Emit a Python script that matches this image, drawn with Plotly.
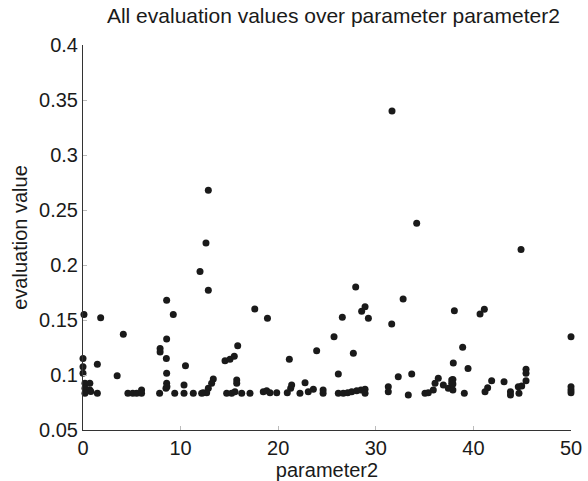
import plotly.graph_objects as go

param2 = [
    12.84, 12.6, 31.66, 34.19, 44.88, 11.99, 12.84, 8.57, 9.25, 0.1, 1.81, 17.6, 18.9, 4.13,
    8.57, 7.9, 7.9, 15.85, 0.0, 8.54, 14.55, 15.06, 15.5, 21.14, 23.94, 1.47, 10.5, 0.0, 0.0,
    3.5, 8.57, 8.57, 8.5, 8.6, 13.35, 13.18, 12.84, 12.33, 12.67, 12.16, 15.75, 15.75, 10.35,
    0.2, 0.2, 0.7, 0.2, 0.8, 0.7, 1.47, 4.6, 5.1, 5.5, 6.0, 6.0, 7.85, 9.4, 10.35, 11.3,
    14.72, 15.23, 15.57, 16.26, 17.11, 18.47, 18.82, 19.16, 19.85, 20.93, 21.28, 21.38,
    22.23, 22.75, 23.08, 23.6, 24.6, 24.6,
    27.94, 32.8, 38.05, 40.68, 41.12, 28.55, 28.9, 26.57, 29.24, 31.63, 25.72, 27.7, 38.9,
    37.94, 39.45, 50.0, 26.16, 32.3, 33.68,
    26.16, 26.67, 27.12, 27.53, 28.04, 28.48, 28.9, 28.9, 31.28, 31.28, 33.33,
    35.04, 35.38, 35.89, 36.07, 36.4, 36.92, 37.43, 37.78, 37.78, 37.9, 37.9, 37.9,
    39.07, 41.87, 41.46, 41.19, 43.14, 43.8, 43.8, 44.6, 44.95, 44.67,
    45.39, 45.39, 45.39, 50.0, 50.0, 50.0,
]
evaluation = [
    0.268, 0.22, 0.340, 0.238, 0.214, 0.194, 0.177, 0.168, 0.155, 0.155, 0.152, 0.160, 0.1515, 0.137,
    0.1327, 0.124, 0.121, 0.1267, 0.115, 0.115, 0.113, 0.1143, 0.117, 0.1143, 0.122, 0.1097, 0.1085, 0.1075, 0.1015,
    0.0994, 0.1015, 0.0924, 0.0879, 0.0893, 0.0964, 0.0924, 0.0879, 0.0839, 0.0839, 0.0834, 0.0955, 0.0924, 0.091,
    0.0924, 0.0879, 0.0864, 0.0834, 0.0850, 0.0924, 0.0834, 0.0834, 0.0834, 0.0834, 0.0864, 0.0834, 0.0834, 0.0834, 0.0834, 0.0834,
    0.0834, 0.0834, 0.0848, 0.0834, 0.0834, 0.0848, 0.0857, 0.0839, 0.0839, 0.0839, 0.0879, 0.091,
    0.0834, 0.093, 0.0848, 0.087, 0.0864, 0.0834,
    0.180, 0.169, 0.1585, 0.1555, 0.1597, 0.158, 0.162, 0.1525, 0.1515, 0.1464, 0.1348, 0.1197, 0.1252,
    0.111, 0.106, 0.1348, 0.101, 0.0985, 0.101,
    0.0834, 0.0834, 0.0839, 0.0848, 0.0857, 0.0864, 0.087, 0.0834, 0.0894, 0.0848, 0.0818,
    0.0834, 0.0839, 0.0864, 0.0924, 0.097, 0.091, 0.0879, 0.0924, 0.0955, 0.096, 0.0918, 0.0864,
    0.0834, 0.0948, 0.0885, 0.0848, 0.0939, 0.0848, 0.0818, 0.0894, 0.09, 0.0834,
    0.1052, 0.1015, 0.0948, 0.0894, 0.0864, 0.0839,
]

x_ticks = [0, 10, 20, 30, 40, 50]
y_ticks = [0.05, 0.1, 0.15, 0.2, 0.25, 0.3, 0.35, 0.4]
y_tick_labels = ["0.05", "0.1", "0.15", "0.2", "0.25", "0.3", "0.35", "0.4"]

FONT = "Liberation Sans, Arial, sans-serif"

fig = go.Figure()
fig.add_trace(go.Scatter(
    x=param2, y=evaluation, mode="markers",
    marker=dict(size=7, color="#1a1a1a", line=dict(width=0)),
    cliponaxis=False, showlegend=False, hoverinfo="x+y",
))

fig.update_layout(
    width=588, height=481,
    margin=dict(l=83, r=17, t=45, b=51, pad=0),
    paper_bgcolor="white", plot_bgcolor="white",
    font=dict(family=FONT, color="#1a1a1a", size=20),
    title=dict(text="All evaluation values over parameter parameter2",
               x=0.567, xref="container", xanchor="center",
               y=0.968, yref="container", yanchor="middle",
               font=dict(size=21, family=FONT, color="#1a1a1a")),
)
fig.update_xaxes(
    range=[0, 50], tickvals=x_ticks, ticktext=[str(v) for v in x_ticks],
    showline=True, linecolor="#333333", linewidth=1, mirror=False,
    ticks="inside", ticklen=4, tickcolor="#bbbbbb",
    showgrid=False, zeroline=False,
    tickfont=dict(size=20, family=FONT, color="#1a1a1a"),
    title=dict(text="parameter2", font=dict(size=20, family=FONT, color="#1a1a1a"), standoff=2),
    automargin=False,
)
fig.update_yaxes(
    range=[0.05, 0.4], tickvals=y_ticks, ticktext=y_tick_labels,
    showline=True, linecolor="#333333", linewidth=1, mirror=False,
    ticks="inside", ticklen=4, tickcolor="#bbbbbb",
    showgrid=False, zeroline=False,
    tickfont=dict(size=20, family=FONT, color="#1a1a1a"),
    title=dict(text="evaluation value", font=dict(size=20, family=FONT, color="#1a1a1a"), standoff=6),
    automargin=False,
)

fig.write_html("out.html")
